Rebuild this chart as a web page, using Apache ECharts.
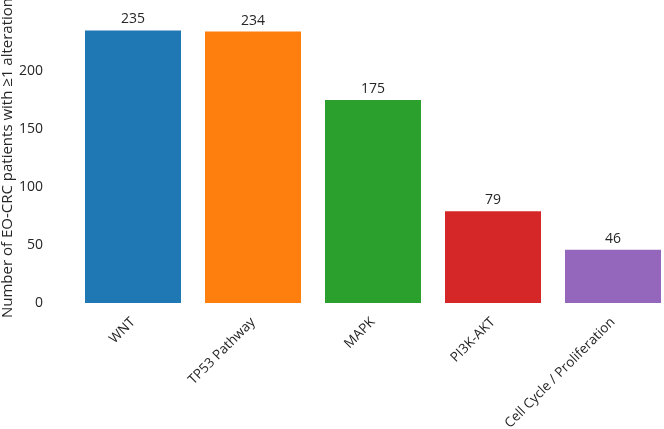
<!DOCTYPE html>
<html><head><meta charset="utf-8">
<script src="https://cdn.jsdelivr.net/npm/echarts@6/dist/echarts.min.js"></script>
<style>html,body{margin:0;padding:0;background:#fff}#c{width:664px;height:429px}</style>
</head><body><div id="c"></div>
<script>
const categories = ["WNT", "TP53 Pathway", "MAPK", "PI3K-AKT", "Cell Cycle / Proliferation"];
const patientCounts = [235, 234, 175, 79, 46];
const barColors = ["#1f77b4", "#ff7f0e", "#2ca02c", "#d62728", "#9467bd"];
const yTicks = [0, 50, 100, 150, 200];
const yAxisTitle = "Number of EO-CRC patients with \u22651 alteration";

const chart = echarts.init(document.getElementById('c'), null, {renderer: 'canvas'});
const font = "Open Sans";
chart.setOption({
  animation: false,
  backgroundColor: '#fff',
  grid: {left: 73, width: 600, top: 13, height: 290, containLabel: false, outerBoundsMode: 'none'},
  xAxis: {
    type: 'category', data: categories,
    axisLine: {show: false}, axisTick: {show: false},
    axisLabel: {rotate: 45, margin: 17, color: '#262626', fontFamily: font, fontSize: 13.5, interval: 0}
  },
  yAxis: {
    type: 'value', min: 0, max: 250, interval: 50,
    name: yAxisTitle, nameLocation: 'middle', nameGap: 58, nameRotate: 90, nameMoveOverlap: false,
    nameTextStyle: {color: '#262626', fontFamily: font, fontSize: 15},
    axisLine: {show: false}, axisTick: {show: false}, splitLine: {show: false},
    axisLabel: {margin: 30, color: '#262626', fontFamily: font, fontSize: 14, showMaxLabel: false,
      formatter: v => yTicks.includes(v) ? String(v) : ''}
  },
  series: [{
    type: 'bar', barWidth: '80%',
    data: patientCounts.map((v, i) => ({value: v, itemStyle: {color: barColors[i]}})),
    label: {show: true, position: 'top', distance: 4, color: '#262626', fontFamily: font, fontSize: 14}
  }]
});
</script></body></html>
